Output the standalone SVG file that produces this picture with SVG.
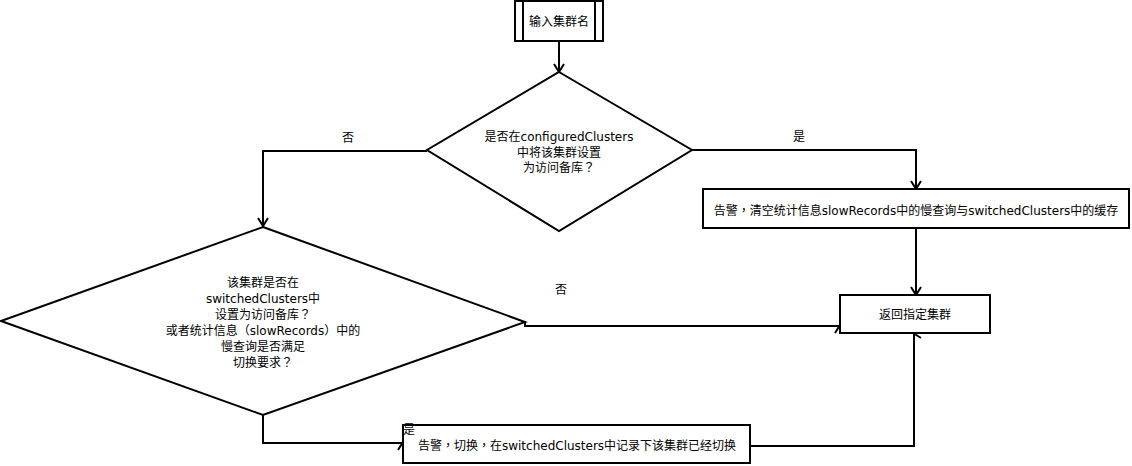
<svg xmlns="http://www.w3.org/2000/svg" width="1132" height="466" viewBox="0 0 1132 466">
<style>
.s{fill:#fff;stroke:#000;stroke-width:2}
.c{fill:none;stroke:#000;stroke-width:2}
text{font-family:"DejaVu Sans","Noto Sans CJK SC",sans-serif;font-size:12px;fill:#000}
.m{text-anchor:middle}
.k{font-family:"Noto Sans CJK TC",sans-serif}
</style>
<defs>
<marker id="arr" viewBox="0 0 10 12" refX="9" refY="6" markerWidth="10" markerHeight="12" orient="auto" markerUnits="userSpaceOnUse">
<path d="M1,1 L9,6 L1,11" fill="none" stroke="#000" stroke-width="2"/>
</marker>
</defs>
<rect width="1132" height="466" fill="#fff"/>
<g id="connectors">
<path class="c" d="M559,41 L559,72" marker-end="url(#arr)"/>
<path class="c" d="M427,151 L263,151 L263,226" marker-end="url(#arr)"/>
<path class="c" d="M692,150 L916,150 L916,189" marker-end="url(#arr)"/>
<path class="c" d="M916,228 L916,295" marker-end="url(#arr)"/>
<path class="c" d="M525,322 L525,326 L840,326 L840,325" marker-end="url(#arr)"/>
<path class="c" d="M263,415 L263,443 L403,443 L403,442" marker-end="url(#arr)"/>
<path class="c" d="M750,446 L914,446 L914,333 L913,333" marker-end="url(#arr)"/>
<text class="m" x="348" y="142">否</text>
<text class="m" x="799" y="141">是</text>
<text class="m" x="561" y="294">否</text>
</g>
<g id="start">
<rect class="s" x="515" y="1" width="88" height="40"/>
<line class="c" x1="523" y1="1" x2="523" y2="41"/>
<line class="c" x1="595" y1="1" x2="595" y2="41"/>
<text class="m" x="559" y="26">输入集群名</text>
</g>
<g id="decision1">
<polygon class="s" points="559,72 692,150 559,231 427,150"/>
<text class="m" x="559" y="141">是否在configuredClusters</text>
<text class="m" x="559" y="157">中将该集群设置</text>
<text class="m" x="559" y="172">为访问备库<tspan class="k">？</tspan></text>
</g>
<g id="clearCache">
<rect class="s" x="703" y="189" width="426" height="39"/>
<text class="m" x="916" y="215">告警<tspan class="k">，</tspan>清空统计信息slowRecords中的慢查询与switchedClusters中的缓存</text>
</g>
<g id="returnCluster">
<rect class="s" x="840" y="295" width="150" height="38"/>
<text class="m" x="915" y="319">返回指定集群</text>
</g>
<g id="decision2">
<polygon class="s" points="263,227 525,322 263,415 1,321"/>
<text class="m" x="263" y="287">该集群是否在</text>
<text class="m" x="263" y="303">switchedClusters中</text>
<text class="m" x="263" y="319">设置为访问备库<tspan class="k">？</tspan></text>
<text class="m" x="263" y="335">或者统计信息<tspan class="k">（</tspan>slowRecords<tspan class="k">）</tspan>中的</text>
<text class="m" x="263" y="351">慢查询是否满足</text>
<text class="m" x="263" y="367">切换要求<tspan class="k">？</tspan></text>
</g>
<g id="switchCluster">
<rect class="s" x="403" y="425" width="347" height="38"/>
<text x="403" y="434">是</text>
<text class="m" x="577" y="450">告警<tspan class="k">，</tspan>切换<tspan class="k">，</tspan>在switchedClusters中记录下该集群已经切换</text>
</g>
</svg>
